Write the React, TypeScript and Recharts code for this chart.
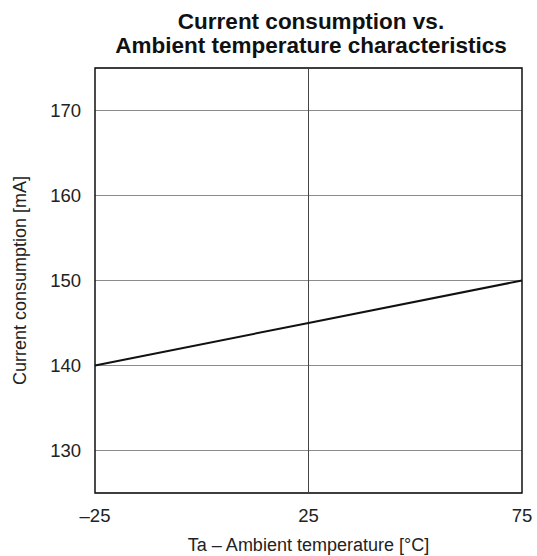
import * as React from 'react';
import { LineChart, Line, XAxis, YAxis, CartesianGrid, ReferenceLine, ReferenceArea } from 'recharts';

const temperatures = [-25, 25, 75];
const currents = [140, 145, 150];
const xTicks = [-25, 25, 75];
const yTicks = [130, 140, 150, 160, 170];

const data = temperatures.map((t, i) => ({ t, current: currents[i] }));

const font = 'Arial, "Liberation Sans", sans-serif';
const tickStyle = { fontSize: 18.5, fill: '#222', fontFamily: font };

export default function App() {
  return (
    <div style={{ position: 'absolute', left: 0, top: 0, width: 537, height: 556, background: '#fff', fontFamily: font }}>
      <div style={{ position: 'absolute', left: 95, width: 432, top: 10, textAlign: 'center', fontWeight: 'bold', fontSize: 22.5, lineHeight: '24px', color: '#111' }}>
        Current consumption vs.
        <br />
        Ambient temperature characteristics
      </div>
      <LineChart width={537} height={556} data={data} margin={{ top: 68, right: 15, bottom: 0, left: 0 }}>
        <CartesianGrid vertical={false} stroke="#8c8c8c" strokeWidth={1} />
        <XAxis
          dataKey="t"
          type="number"
          domain={[-25, 75]}
          ticks={xTicks}
          tickFormatter={(v) => String(v).replace('-', '–')}
          tick={tickStyle}
          fontSize={18.5}
          tickLine={false}
          axisLine={false}
          tickMargin={10}
          height={63}
          label={{ value: 'Ta – Ambient temperature [°C]', position: 'insideBottom', offset: 5, style: { fontSize: 18, fill: '#222', fontFamily: font } }}
        />
        <YAxis
          type="number"
          domain={[125, 175]}
          ticks={yTicks}
          tick={tickStyle}
          fontSize={18.5}
          tickLine={false}
          axisLine={false}
          tickMargin={8}
          width={95}
          label={{ value: 'Current consumption [mA]', angle: -90, position: 'insideLeft', offset: 20, style: { fontSize: 18, fill: '#222', fontFamily: font, textAnchor: 'middle' } }}
        />
        <ReferenceLine x={25} stroke="#444" strokeWidth={1} />
        <ReferenceArea x1={-25} x2={75} y1={125} y2={175} fill="none" stroke="#111" strokeWidth={1.5} />
        <Line dataKey="current" type="linear" stroke="#111" strokeWidth={2} dot={false} isAnimationActive={false} />
      </LineChart>
    </div>
  );
}
